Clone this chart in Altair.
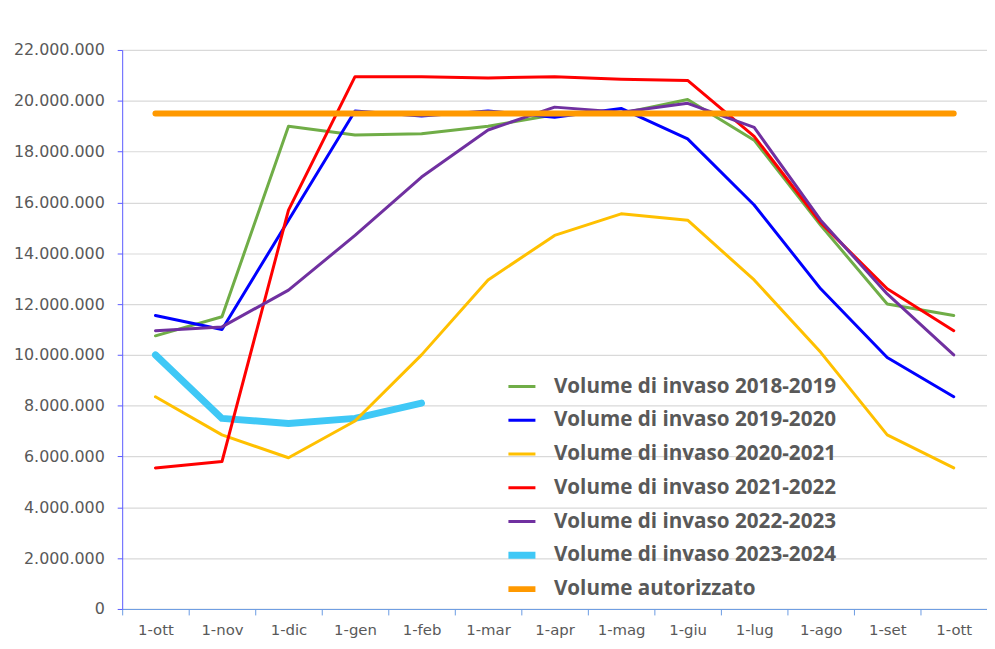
import json
import altair as alt
import pandas as pd

months = ["1-ott", "1-nov", "1-dic", "1-gen", "1-feb", "1-mar", "1-apr",
          "1-mag", "1-giu", "1-lug", "1-ago", "1-set", "1-ott"]

series_names = [
    "Volume di invaso 2018-2019",
    "Volume di invaso 2019-2020",
    "Volume di invaso 2020-2021",
    "Volume di invaso 2021-2022",
    "Volume di invaso 2022-2023",
    "Volume di invaso 2023-2024",
    "Volume autorizzato",
]

v2018_2019 = [10750000, 11500000, 19000000, 18650000, 18700000, 19000000, 19450000,
              19500000, 20050000, 18450000, 15100000, 12000000, 11550000]
v2019_2020 = [11550000, 11000000, 15300000, 19600000, 19400000, 19600000, 19350000,
              19700000, 18500000, 15900000, 12600000, 9900000, 8350000]
v2020_2021 = [8350000, 6850000, 5950000, 7400000, 10000000, 12950000, 14700000,
              15550000, 15300000, 12950000, 10100000, 6850000, 5550000]
v2021_2022 = [5550000, 5800000, 15700000, 20950000, 20950000, 20900000, 20950000,
              20850000, 20800000, 18600000, 15200000, 12600000, 10950000]
v2022_2023 = [10950000, 11100000, 12550000, 14700000, 17000000, 18850000, 19750000,
              19550000, 19900000, 18950000, 15300000, 12400000, 10000000]
v2023_2024 = [10000000, 7500000, 7300000, 7500000, 8100000]
v_autorizzato = [19500000] * 13

colors = ["#70AD47", "#0000FF", "#FFC000", "#FF0000", "#7030A0", "#3FC8F6", "#FF9900"]

all_values = [v2018_2019, v2019_2020, v2020_2021, v2021_2022, v2022_2023,
              v2023_2024, v_autorizzato]

rows = []
for name, vals in zip(series_names, all_values):
    for i, v in enumerate(vals):
        rows.append({"idx": i, "serie": name, "valore": v})
df = pd.DataFrame(rows)

label_expr = json.dumps(months) + "[datum.value]"

sym_width_expr = ("datum.value == '%s' ? 7 : (datum.value == '%s' ? 6 : 3)"
                  % (series_names[5], series_names[6]))

legend = alt.Legend(title=None, orient="none", legendX=389, legendY=322,
                    symbolType="M-0.7,0H0.7", symbolSize=2304, clipHeight=34,
                    symbolStrokeWidth=alt.ExprRef(sym_width_expr),
                    labelFont="Open Sans", labelFontSize=20.8,
                    labelFontWeight="bold", labelColor="#595959",
                    labelOffset=25, rowPadding=0, labelLimit=400)

x_enc = alt.X("idx:O",
              scale=alt.Scale(type="band", paddingInner=0, paddingOuter=0),
              axis=alt.Axis(title=None, labelAngle=0, labelExpr=label_expr,
                            tickBand="extent", domainColor="#6B9BE3", tickColor="#6B9BE3",
                            tickSize=6, labelPadding=8, labelFontSize=15,
                            labelFont="DejaVu Sans",
                            labelColor="#595959", grid=False))
y_enc = alt.Y("valore:Q",
              scale=alt.Scale(domain=[0, 22000000], nice=False),
              axis=alt.Axis(title=None, values=list(range(0, 22000001, 2000000)),
                            labelExpr="join(split(format(datum.value, ','), ','), '.')",
                            domainColor="#5B5BFF", tickColor="#5B5BFF", tickSize=5,
                            labelPadding=13, labelFontSize=16, labelFont="DejaVu Sans",
                            labelColor="#595959", gridColor="#D9D9D9", gridWidth=1.2))
c_enc = alt.Color("serie:N", sort=series_names,
                  scale=alt.Scale(domain=series_names, range=colors),
                  legend=legend)

base = alt.Chart(df).encode(x=x_enc, y=y_enc, color=c_enc)

light = base.transform_filter(alt.datum.serie == series_names[5]).mark_line(
    strokeWidth=7, strokeCap="round", strokeJoin="round")
thin = base.transform_filter(
    alt.FieldOneOfPredicate(field="serie", oneOf=series_names[:5])
).mark_line(strokeWidth=3, strokeCap="round", strokeJoin="round")
auth = base.transform_filter(alt.datum.serie == series_names[6]).mark_line(
    strokeWidth=6, strokeCap="round", strokeJoin="round")

chart = alt.layer(light, thin, auth).properties(
    width=871, height=563,
    autosize=alt.AutoSizeParams(type="none"),
    padding={"left": 115, "top": 40, "right": 0, "bottom": 30},
).configure_view(stroke=None)

chart.save("out.html", embed_options={"renderer": "svg", "actions": False})
